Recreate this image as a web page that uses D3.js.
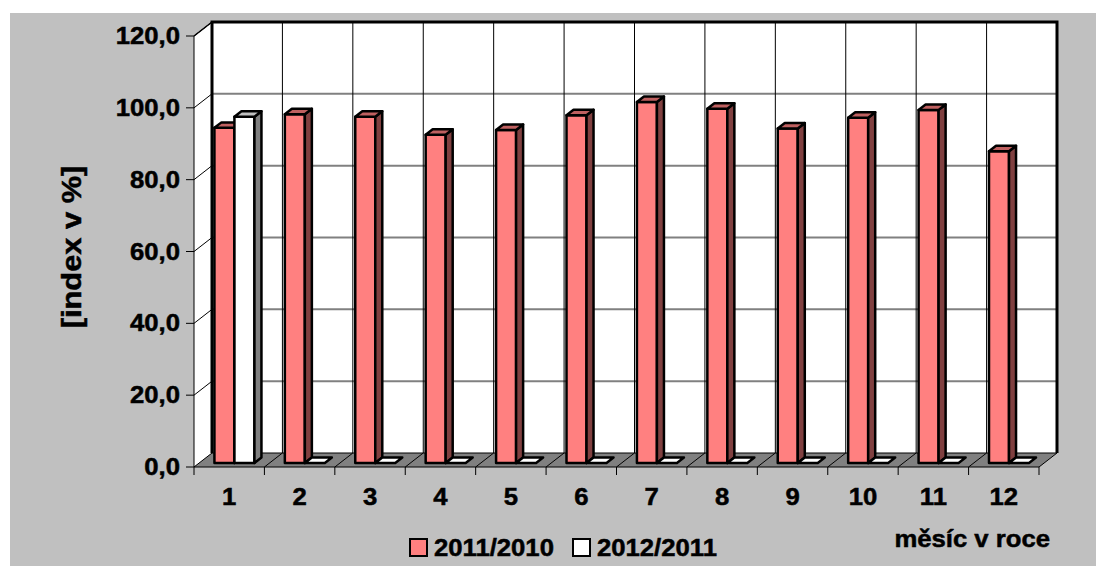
<!DOCTYPE html>
<html>
<head>
<meta charset="utf-8">
<script src="https://cdn.jsdelivr.net/npm/d3@7"></script>
<style>
  html, body { margin: 0; padding: 0; background: #ffffff; }
  svg text { font-family: "Liberation Sans", Arial, sans-serif; font-weight: bold; fill: #000; stroke: #000; stroke-width: 0.5px; }
</style>
</head>
<body>
<svg id="chart" width="1096" height="566"></svg>
<script>
// Monthly index (previous year = 100 %)
const months = ["1", "2", "3", "4", "5", "6", "7", "8", "9", "10", "11", "12"];
const series2011 = [93.3, 97.1, 96.4, 91.4, 92.7, 96.8, 100.5, 98.6, 93.1, 96.1, 98.3, 86.8];
const series2012 = [96.4, 0, 0, 0, 0, 0, 0, 0, 0, 0, 0, 0];
const seriesNames = ["2011/2010", "2012/2011"];
const yTicks = [0, 20, 40, 60, 80, 100, 120];
const yTitle = "[index v %]";
const xTitle = "měsíc v roce";

const seriesValues = [series2011, series2012];
const faceColors = [
  { front: "#ff8080", side: "#804040", top: "#bf6060" },
  { front: "#ffffff", side: "#808080", top: "#c0c0c0" }
];

const svg = d3.select("#chart");
const locale = d3.formatLocale({ decimal: ",", thousands: " ", grouping: [3], currency: ["", " Kč"] });
const fmt = locale.format(".1f");

// Plot geometry: front plane plus a receding depth offset
const plotL = 194, plotR = 1039, plotB = 467, plotT = 36;
const depthX = 18, depthY = -14;
const barDepth0 = 0.29, barDepth1 = 0.68;
const fontSize = 24, stretch = 1.07;

const x = d3.scaleBand().domain(months).range([plotL, plotR]).paddingInner(0).paddingOuter(0);
const xs = d3.scaleBand().domain(seriesNames).range([0, x.bandwidth()]).paddingInner(0).paddingOuter(0.76);
const y = d3.scaleLinear().domain([0, 120]).range([plotB, plotT]);

// Text placed at (tx, ty), slightly widened along its baseline
function label(g, tx, ty, str, opts = {}) {
  const size = opts.size || fontSize, sx = opts.stretch || stretch, rot = opts.rotate || 0;
  return g.append("text")
    .attr("transform", `translate(${tx},${ty}) rotate(${rot}) scale(${sx},1)`)
    .attr("text-anchor", opts.anchor || "start")
    .attr("font-size", size)
    .text(str);
}

// Background panel
svg.append("rect").attr("x", 10).attr("y", 13).attr("width", 1086).attr("height", 553).attr("fill", "#c0c0c0");

const pts = a => a.map(p => p.join(",")).join(" ");

// Back wall
svg.append("rect")
  .attr("x", plotL + depthX).attr("y", plotT + depthY)
  .attr("width", plotR - plotL).attr("height", plotB - plotT)
  .attr("fill", "#ffffff");

// Left side wall
svg.append("polygon")
  .attr("points", pts([[plotL, plotB], [plotL, plotT], [plotL + depthX, plotT + depthY], [plotL + depthX, plotB + depthY]]))
  .attr("fill", "#ffffff");

// Horizontal gridlines on back wall and diagonals on side wall
const gridG = svg.append("g");
gridG.selectAll("line.h").data(yTicks.filter(t => t > 0 && t < 120)).join("line")
  .attr("class", "h")
  .attr("x1", plotL + depthX).attr("x2", plotR + depthX)
  .attr("y1", d => y(d) + depthY).attr("y2", d => y(d) + depthY)
  .attr("stroke", "#808080").attr("stroke-width", 2);
gridG.selectAll("line.s").data(yTicks.filter(t => t > 0)).join("line")
  .attr("class", "s")
  .attr("x1", plotL).attr("x2", plotL + depthX)
  .attr("y1", d => y(d)).attr("y2", d => y(d) + depthY)
  .attr("stroke", "#000").attr("stroke-width", 1);

// Vertical gridlines on back wall at category boundaries
const bounds = months.map(m => x(m)).slice(1);
gridG.selectAll("line.v").data(bounds).join("line")
  .attr("class", "v")
  .attr("x1", d => d + depthX).attr("x2", d => d + depthX)
  .attr("y1", plotT + depthY).attr("y2", plotB + depthY)
  .attr("stroke", "#000").attr("stroke-width", 1);

// Floor
svg.append("polygon")
  .attr("points", pts([[plotL, plotB], [plotR, plotB], [plotR + depthX, plotB + depthY], [plotL + depthX, plotB + depthY]]))
  .attr("fill", "#808080").attr("stroke", "#000").attr("stroke-width", 1);
svg.append("g").selectAll("line").data(bounds).join("line")
  .attr("x1", d => d).attr("x2", d => d + depthX)
  .attr("y1", plotB).attr("y2", plotB + depthY)
  .attr("stroke", "#000").attr("stroke-width", 1);

// Wall outlines
svg.append("path")
  .attr("d", `M${plotL + depthX},${plotB + depthY}V${plotT + depthY}H${plotR + depthX}V${plotB + depthY}`)
  .attr("fill", "none").attr("stroke", "#000").attr("stroke-width", 3);
svg.append("line")
  .attr("x1", plotL).attr("x2", plotL).attr("y1", plotT).attr("y2", plotB)
  .attr("stroke", "#000").attr("stroke-width", 1);
svg.append("line")
  .attr("x1", plotL).attr("x2", plotL + depthX).attr("y1", plotT).attr("y2", plotT + depthY)
  .attr("stroke", "#000").attr("stroke-width", 1.5);

// Bars (drawn as boxes: front, side, top faces)
const bx = barDepth0 * depthX, by = barDepth0 * depthY;
const dbx = (barDepth1 - barDepth0) * depthX, dby = (barDepth1 - barDepth0) * depthY;
const barsG = svg.append("g");
months.forEach((m, i) => {
  seriesNames.forEach((s, k) => {
    const v = seriesValues[k][i];
    const x0 = x(m) + xs(s) + bx, x1 = x0 + xs.bandwidth();
    const yb = y(0) + by, yt = y(v) + by;
    const c = faceColors[k];
    const g = barsG.append("g").attr("stroke", "#000").attr("stroke-width", 2.5).attr("stroke-linejoin", "round");
    if (v > 0) {
      g.append("polygon").attr("points", pts([[x0, yb], [x0, yt], [x1, yt], [x1, yb]])).attr("fill", c.front);
      g.append("polygon").attr("points", pts([[x1, yb], [x1, yt], [x1 + dbx, yt + dby], [x1 + dbx, yb + dby]])).attr("fill", c.side);
    }
    g.append("polygon").attr("points", pts([[x0, yt], [x0 + dbx, yt + dby], [x1 + dbx, yt + dby], [x1, yt]]))
      .attr("fill", v > 0 ? c.top : "#ffffff");
  });
});

// Y axis ticks and labels
const yAxisG = svg.append("g");
yAxisG.selectAll("line").data(yTicks).join("line")
  .attr("x1", plotL - 8).attr("x2", plotL).attr("y1", d => y(d)).attr("y2", d => y(d))
  .attr("stroke", "#000").attr("stroke-width", 1);
yTicks.forEach(t => label(yAxisG, 180, y(t) + 8, fmt(t), { anchor: "end" }));

// X axis ticks and labels
const xAxisG = svg.append("g");
xAxisG.selectAll("line").data(months.map(m => x(m)).concat([plotR])).join("line")
  .attr("x1", d => d).attr("x2", d => d).attr("y1", plotB).attr("y2", plotB + 8)
  .attr("stroke", "#000").attr("stroke-width", 1);
months.forEach(m => label(xAxisG, x(m) + x.bandwidth() / 2, 505, m, { anchor: "middle" }));

// Axis titles
label(svg, 81, 247, yTitle, { anchor: "middle", rotate: -90, size: 28, stretch: 1.1 });
label(svg, 1050, 547, xTitle, { anchor: "end" });

// Legend
const legendX = [410, 573];
const legend = svg.append("g");
seriesNames.forEach((s, k) => {
  legend.append("rect").attr("x", legendX[k]).attr("y", 539).attr("width", 17).attr("height", 17)
    .attr("fill", faceColors[k].front).attr("stroke", "#000").attr("stroke-width", 2);
  label(legend, legendX[k] + 24, 556, s);
});
</script>
</body>
</html>
